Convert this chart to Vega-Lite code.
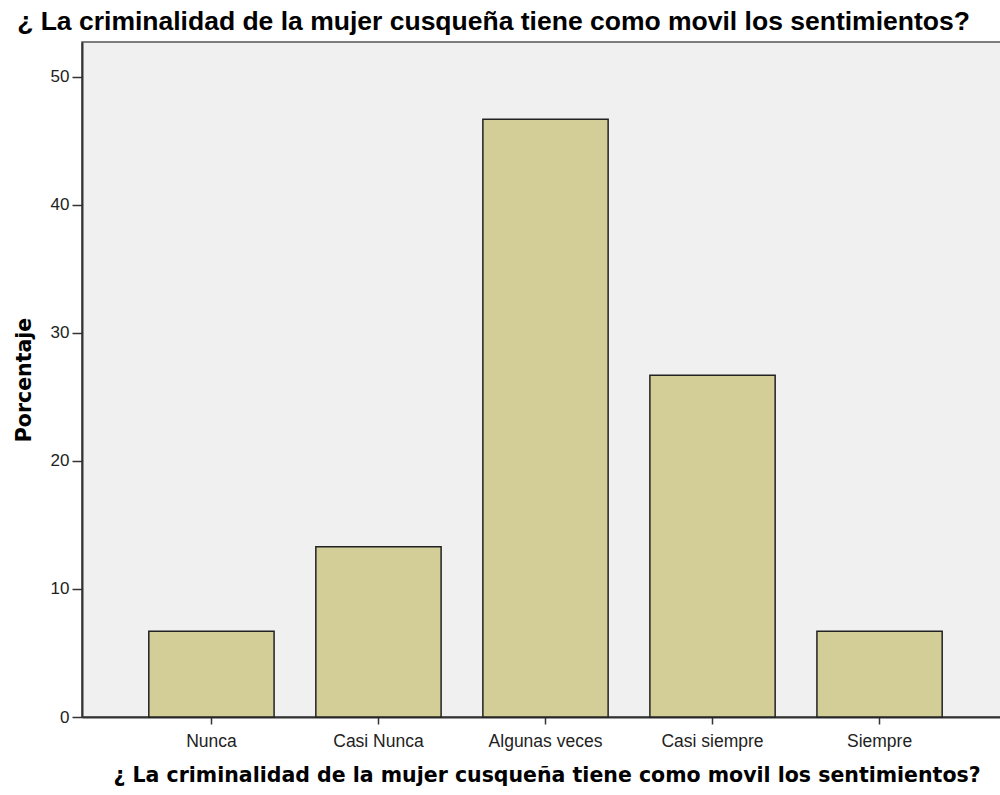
{
  "$schema": "https://vega.github.io/schema/vega-lite/v6.json",
  "autosize": {"type": "none"},
  "padding": {"left": 82, "top": 42, "right": 0, "bottom": 78},
  "width": 927,
  "height": 675,
  "background": "white",
  "title": {
    "text": "¿ La criminalidad de la mujer cusqueña tiene como movil los sentimientos?",
    "font": "Liberation Sans",
    "fontSize": 26.5,
    "fontWeight": "bold",
    "color": "#000000",
    "anchor": "middle",
    "dx": -52,
    "offset": 7
  },
  "data": {
    "values": [
      {"categoria": "Nunca", "porcentaje": 6.7},
      {"categoria": "Casi Nunca", "porcentaje": 13.3},
      {"categoria": "Algunas veces", "porcentaje": 46.7},
      {"categoria": "Casi siempre", "porcentaje": 26.7},
      {"categoria": "Siempre", "porcentaje": 6.7}
    ]
  },
  "mark": {"type": "bar", "fill": "#d3ce97", "stroke": "#222222", "strokeWidth": 1.5},
  "encoding": {
    "x": {
      "field": "categoria",
      "type": "nominal",
      "sort": null,
      "scale": {"paddingInner": 0.25, "paddingOuter": 0.4},
      "axis": {
        "title": "¿ La criminalidad de la mujer cusqueña tiene como movil los sentimientos?",
        "titleFont": "DejaVu Sans",
        "titleFontSize": 20.5,
        "titleFontWeight": "bold",
        "titleColor": "#000000",
        "titleAnchor": "start",
        "titleX": 31,
        "titlePadding": 16,
        "labelAngle": 0,
        "labelFont": "Liberation Sans",
        "labelFontSize": 17.5,
        "labelColor": "#222222",
        "labelPadding": 8,
        "tickColor": "#333333",
        "tickSize": 7,
        "tickWidth": 1.5,
        "domainColor": "#333333",
        "domainWidth": 2
      }
    },
    "y": {
      "field": "porcentaje",
      "type": "quantitative",
      "scale": {"domain": [0, 52.73], "nice": false},
      "axis": {
        "title": "Porcentaje",
        "titleFont": "DejaVu Sans",
        "titleFontSize": 20.5,
        "titleFontWeight": "bold",
        "titleColor": "#000000",
        "titlePadding": 16,
        "values": [0, 10, 20, 30, 40, 50],
        "grid": false,
        "labelFont": "Liberation Sans",
        "labelFontSize": 17,
        "labelColor": "#222222",
        "labelPadding": 3,
        "tickColor": "#333333",
        "tickSize": 10,
        "tickWidth": 1.5,
        "domainColor": "#333333",
        "domainWidth": 2
      }
    }
  },
  "config": {
    "view": {"fill": "#f0f0f0", "stroke": "#555555", "strokeWidth": 1.5}
  }
}
